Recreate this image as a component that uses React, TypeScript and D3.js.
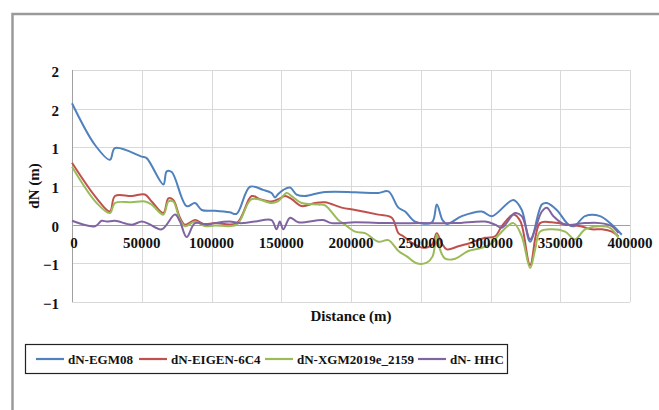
import React, { useEffect, useRef } from 'react';
import * as d3 from 'd3';

// distance (m) / dN (m)
const egm08: [number, number][] = [
  [0, 1.57], [16500, 1.03], [27200, 0.84], [30800, 0.99], [50000, 0.88], [53500, 0.86],
  [65500, 0.52], [67900, 0.69], [71500, 0.68], [82200, 0.24], [88200, 0.28], [93000, 0.19],
  [102500, 0.18], [113000, 0.16], [118000, 0.14], [127600, 0.49], [137000, 0.45], [143000, 0.41],
  [145500, 0.35], [147500, 0.39], [151500, 0.45], [156300, 0.48], [161000, 0.39], [167000, 0.37],
  [180000, 0.42], [203000, 0.42], [219600, 0.41], [226800, 0.43], [234000, 0.22], [238800, 0.17],
  [246000, 0.04], [258000, 0.03], [261500, 0.26], [265600, 0.06], [268700, 0.01], [279400, 0.11],
  [293800, 0.17], [301000, 0.11], [316400, 0.32], [322400, 0.19], [328400, -0.22], [336800, 0.26],
  [340400, 0.28], [347500, 0.19], [355900, 0.0], [360000, -0.02], [367800, 0.11], [378500, 0.11],
  [385700, 0.02], [394100, -0.13],
];

const eigen6c4: [number, number][] = [
  [0, 0.8], [17700, 0.34], [27200, 0.17], [30800, 0.37], [42800, 0.37], [52300, 0.39],
  [57100, 0.3], [65500, 0.15], [69100, 0.34], [72600, 0.32], [77400, 0.09], [81000, 0.0],
  [88200, 0.06], [94100, 0.01], [102500, 0.02], [118000, 0.02], [128800, 0.37], [134800, 0.33],
  [143000, 0.3], [149000, 0.34], [152700, 0.37], [157500, 0.33], [164700, 0.24], [174200, 0.28],
  [181400, 0.29], [193300, 0.22], [203000, 0.19], [219600, 0.13], [229200, 0.09], [234000, -0.11],
  [237500, -0.15], [246000, -0.26], [251900, -0.3], [258000, -0.26], [261500, -0.11], [265000, -0.24],
  [268700, -0.32], [277000, -0.28], [286600, -0.23], [296100, -0.17], [303300, -0.15], [308100, -0.02],
  [316400, 0.13], [321500, 0.04], [328400, -0.52], [335500, 0.02], [343900, 0.03], [355000, 0.0],
  [364500, -0.02], [372600, -0.06], [379800, -0.06], [387000, -0.09], [391700, -0.15],
];

const xgm2019e: [number, number][] = [
  [0, 0.75], [17700, 0.28], [27200, 0.15], [30800, 0.28], [42800, 0.29], [52300, 0.3],
  [57100, 0.26], [65500, 0.13], [69100, 0.3], [72600, 0.3], [77400, 0.06], [81000, -0.02],
  [88200, 0.04], [95500, -0.02], [102500, -0.01], [118000, 0.0], [128800, 0.33], [143000, 0.28],
  [147500, 0.3], [153900, 0.41], [157500, 0.37], [164700, 0.28], [176600, 0.26], [181400, 0.25],
  [190900, 0.06], [195700, 0.0], [203000, -0.09], [210100, -0.11], [219600, -0.22], [226800, -0.2],
  [234000, -0.34], [240000, -0.41], [247100, -0.5], [254300, -0.49], [258500, -0.41], [261500, -0.13],
  [263800, -0.32], [267500, -0.44], [274700, -0.44], [284100, -0.34], [293800, -0.3], [301000, -0.24],
  [306000, -0.13], [316400, 0.02], [322400, -0.15], [328400, -0.56], [332000, -0.32], [335500, -0.09],
  [343900, -0.06], [353500, -0.09], [360600, -0.19], [367800, -0.06], [378500, -0.02], [385700, -0.04],
  [391700, -0.17],
];

const hhc: [number, number][] = [
  [0, 0.05], [16500, -0.02], [21300, 0.05], [25000, 0.04], [30800, 0.05], [42800, 0.0],
  [50000, 0.04], [55000, 0.01], [64300, -0.06], [73800, 0.13], [77400, 0.04], [82200, -0.16],
  [88200, 0.02], [97000, 0.0], [102500, 0.02], [113000, 0.04], [120000, 0.02], [131200, 0.04],
  [143000, 0.06], [146600, -0.06], [149000, 0.04], [151500, -0.06], [156300, 0.09], [162200, 0.03],
  [180000, 0.06], [186000, 0.02], [203000, 0.03], [227000, 0.02], [250000, 0.02], [275000, 0.02],
  [296100, 0.04], [303300, 0.0], [308100, -0.04], [317600, 0.15], [322400, 0.11], [328400, -0.19],
  [332000, -0.06], [336800, 0.17], [340400, 0.22], [345100, 0.11], [353500, 0.0], [367800, 0.02],
  [378500, 0.02], [387000, -0.02], [391700, -0.11],
];

const seriesNames = ['dN-EGM08', 'dN-EIGEN-6C4', 'dN-XGM2019e_2159', 'dN- HHC'];
const seriesData = [egm08, eigen6c4, xgm2019e, hhc];
const seriesColors = ['#4F81BD', '#C0504D', '#9BBB59', '#8064A2'];

const xTicks = [0, 50000, 100000, 150000, 200000, 250000, 300000, 350000, 400000];
const yTicks = [2, 1.5, 1, 0.5, 0, -0.5, -1];

const FONT = '"Liberation Serif", "Times New Roman", serif';

export default function App() {
  const svgRef = useRef<SVGSVGElement>(null);

  useEffect(() => {
    const svg = d3.select(svgRef.current);
    svg.selectAll('*').remove();

    const width = 659;
    const height = 410;
    const plot = { left: 72, right: 630, top: 70, bottom: 302 };

    svg.attr('width', width).attr('height', height);

    // outer chart border
    svg.append('rect')
      .attr('x', 12.5).attr('y', 14)
      .attr('width', 700).attr('height', 500)
      .attr('fill', '#fff')
      .attr('stroke', '#9a9a9a')
      .attr('stroke-width', 2.5);

    const x = d3.scaleLinear().domain([0, 400000]).range([plot.left, plot.right]);
    const y = d3.scaleLinear().domain([-1, 2]).range([plot.bottom, plot.top]);

    // gridlines
    const grid = svg.append('g').attr('stroke', '#d9d9d9').attr('stroke-width', 1);
    grid.selectAll('line.h')
      .data(yTicks.filter((t) => t !== 0))
      .join('line')
      .attr('x1', plot.left).attr('x2', plot.right)
      .attr('y1', (d) => Math.round(y(d)) + 0.5)
      .attr('y2', (d) => Math.round(y(d)) + 0.5);
    grid.selectAll('line.v')
      .data(xTicks.slice(1))
      .join('line')
      .attr('x1', (d) => Math.round(x(d)) + 0.5)
      .attr('x2', (d) => Math.round(x(d)) + 0.5)
      .attr('y1', plot.top).attr('y2', plot.bottom);

    // axes lines
    svg.append('line')
      .attr('x1', plot.left + 0.5).attr('x2', plot.left + 0.5)
      .attr('y1', plot.top).attr('y2', plot.bottom)
      .attr('stroke', '#a0a0a0');
    svg.append('line')
      .attr('x1', plot.left).attr('x2', plot.right)
      .attr('y1', Math.round(y(0)) + 0.5).attr('y2', Math.round(y(0)) + 0.5)
      .attr('stroke', '#a0a0a0');

    // series (Excel smoothed lines)
    const line = d3.line<[number, number]>()
      .x((d) => x(d[0]))
      .y((d) => y(d[1]))
      .curve(d3.curveCatmullRom.alpha(0.5));

    svg.append('g')
      .selectAll('path')
      .data(seriesData)
      .join('path')
      .attr('d', (d) => line(d))
      .attr('fill', 'none')
      .attr('stroke', (_, i) => seriesColors[i])
      .attr('stroke-width', 2)
      .attr('stroke-linejoin', 'round');

    // x tick labels (sit just under the zero line)
    svg.append('g')
      .selectAll('text')
      .data(xTicks)
      .join('text')
      .attr('x', (d) => x(d) + (d === 0 ? 2 : 0))
      .attr('y', y(0) + 23)
      .attr('text-anchor', 'middle')
      .style('font-family', FONT)
      .style('font-weight', 'bold')
      .style('font-size', '15px')
      .attr('fill', '#111')
      .text((d) => String(d));

    // y tick labels (Excel rounds to 0 decimals)
    svg.append('g')
      .selectAll('text')
      .data(yTicks)
      .join('text')
      .attr('x', 59)
      .attr('y', (d) => y(d) + 7)
      .attr('text-anchor', 'end')
      .style('font-family', FONT)
      .style('font-weight', 'bold')
      .style('font-size', '15px')
      .attr('fill', '#111')
      .text((d) => d3.format('.0f')(d >= 0 ? d + 1e-9 : d - 1e-9));

    // axis titles
    svg.append('text')
      .attr('transform', `translate(39,${(plot.top + plot.bottom) / 2}) rotate(-90)`)
      .attr('text-anchor', 'middle')
      .style('font-family', FONT)
      .style('font-weight', 'bold')
      .style('font-size', '15px')
      .attr('fill', '#111')
      .text('dN (m)');

    svg.append('text')
      .attr('x', (plot.left + plot.right) / 2)
      .attr('y', 321)
      .attr('text-anchor', 'middle')
      .style('font-family', FONT)
      .style('font-weight', 'bold')
      .style('font-size', '15px')
      .attr('fill', '#111')
      .text('Distance (m)');

    // legend
    const legend = svg.append('g');
    legend.append('rect')
      .attr('x', 25.5).attr('y', 344.5)
      .attr('width', 482).attr('height', 29)
      .attr('fill', '#fff')
      .attr('stroke', '#222')
      .attr('stroke-width', 1.2);

    const itemX = [36, 139, 265, 418];
    const items = legend.selectAll('g.item')
      .data(seriesNames)
      .join('g')
      .attr('transform', (_, i) => `translate(${itemX[i]},359)`);
    items.append('line')
      .attr('x1', 0).attr('x2', 28)
      .attr('y1', 0).attr('y2', 0)
      .attr('stroke', (_, i) => seriesColors[i])
      .attr('stroke-width', 2.2);
    items.append('text')
      .attr('x', 32)
      .attr('y', 5)
      .style('font-family', FONT)
      .style('font-weight', 'bold')
      .style('font-size', '13px')
      .attr('fill', '#111')
      .text((d) => d);
  }, []);

  return (
    <svg ref={svgRef} style={{ position: 'absolute', left: 0, top: 0, background: '#fff' }} />
  );
}
